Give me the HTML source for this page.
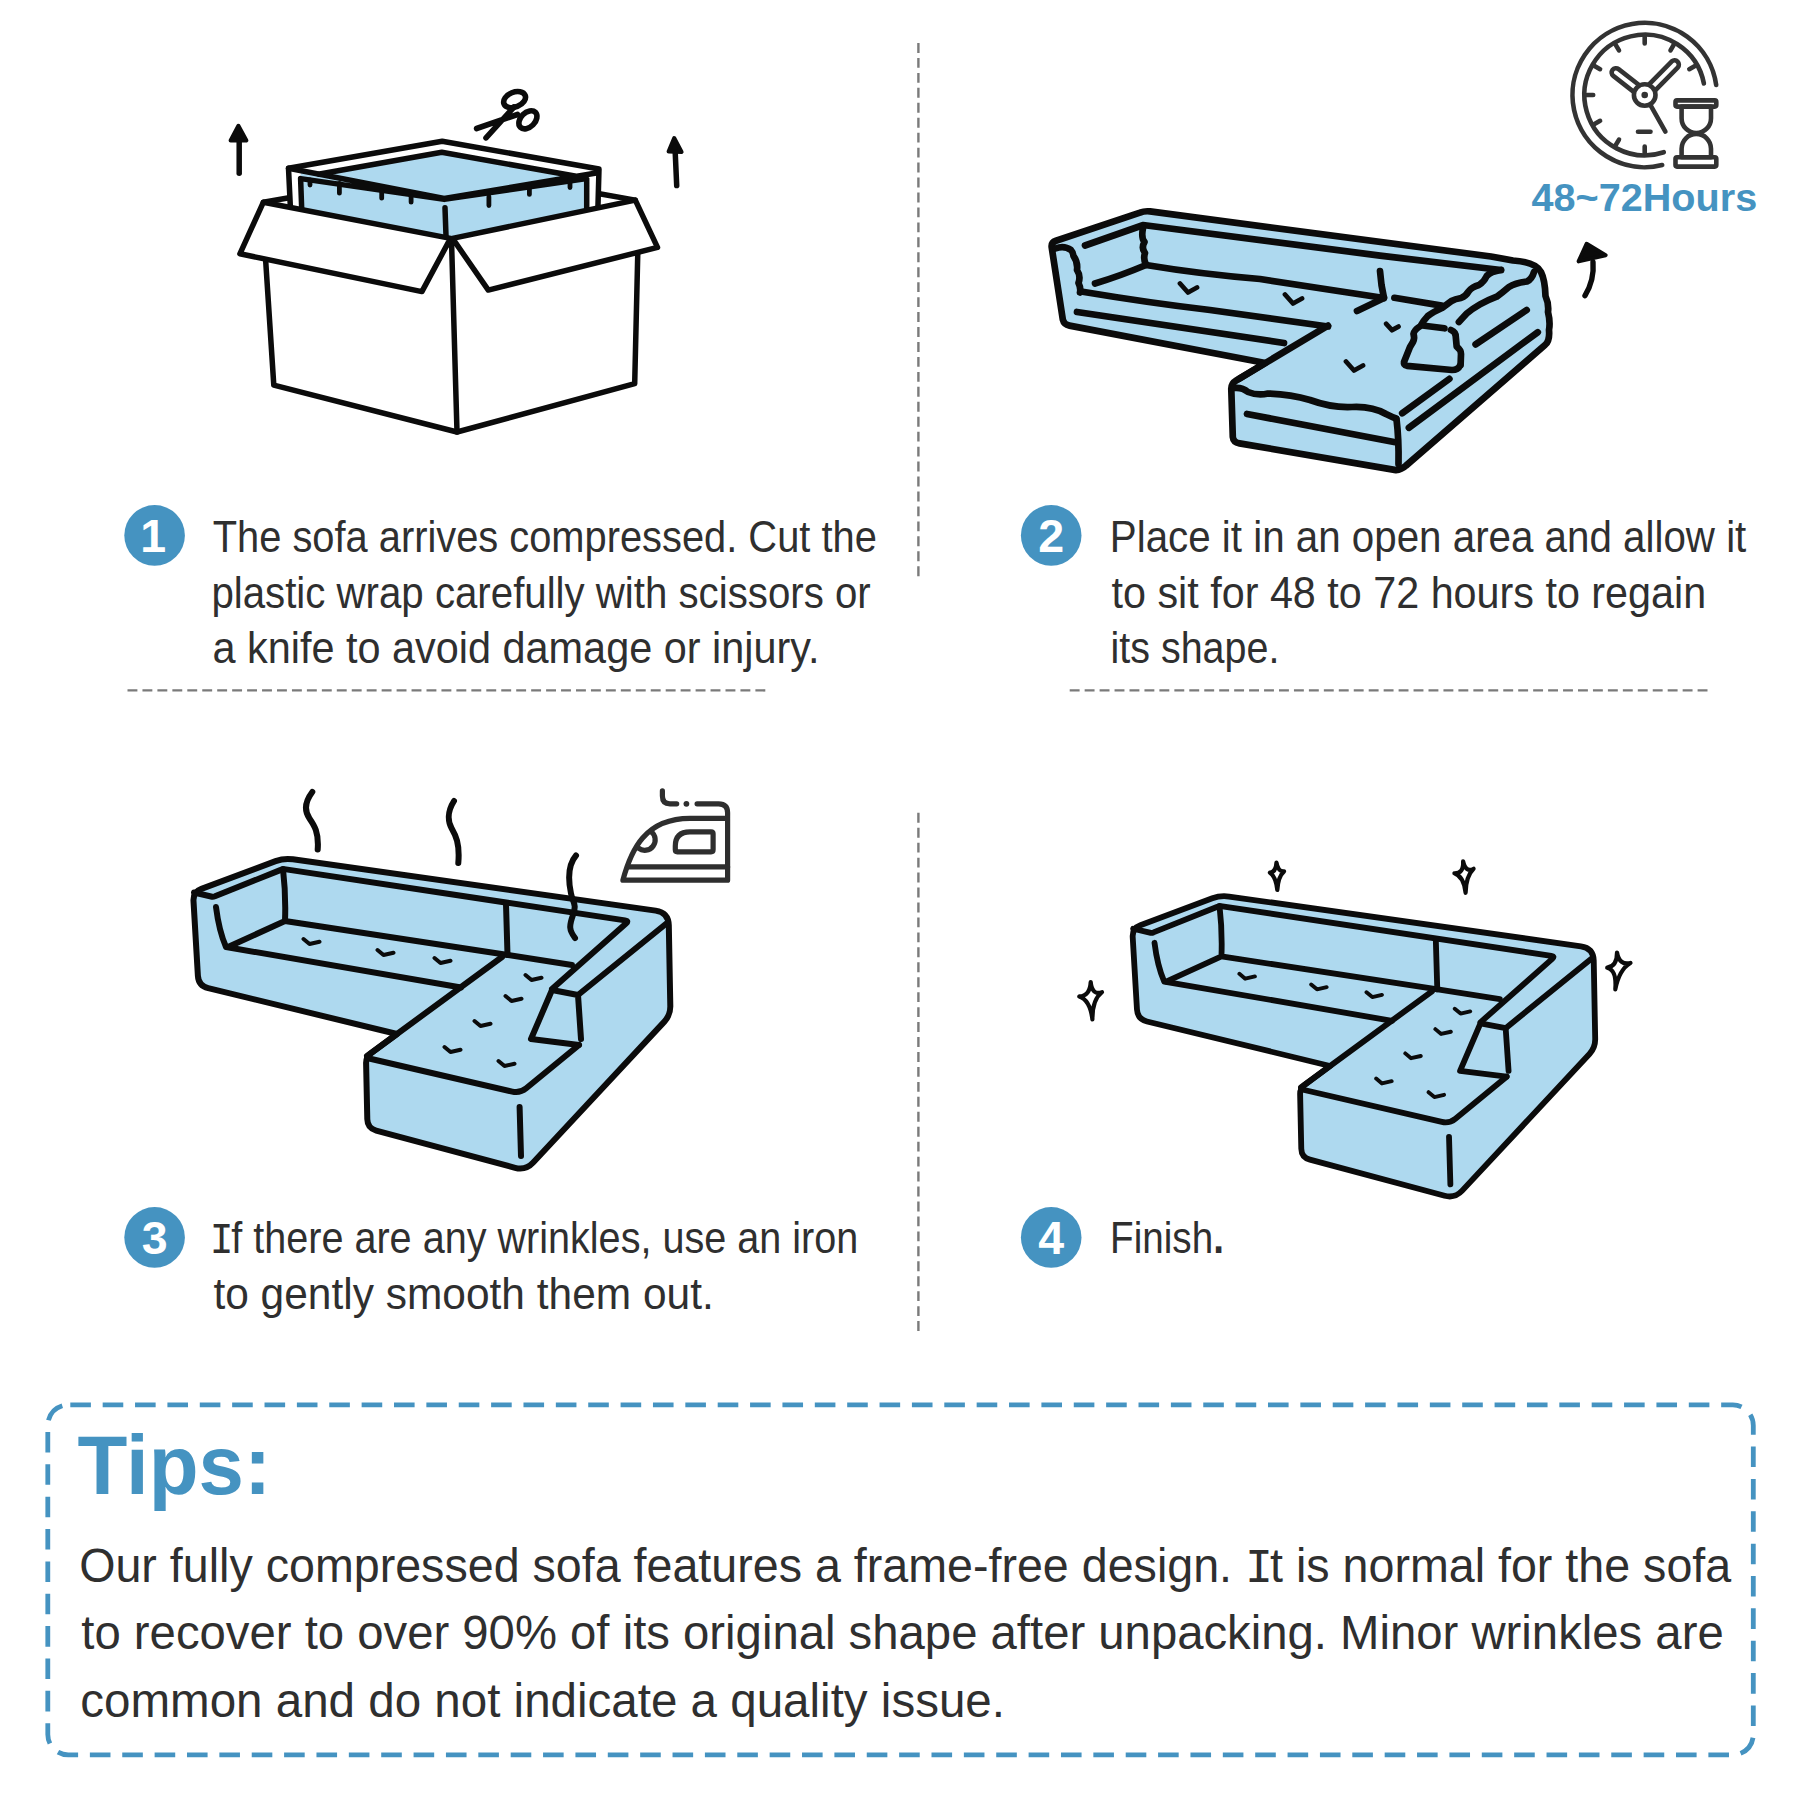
<!DOCTYPE html>
<html lang="en"><head><meta charset="utf-8"><title>Sofa unpacking guide</title>
<style>
html,body{margin:0;padding:0;background:#fff;}
body{width:1800px;height:1800px;overflow:hidden;font-family:"Liberation Sans",sans-serif;}
svg{display:block}
.t{font-family:"Liberation Sans",sans-serif;fill:#2f2f2f}
.b{font-family:"Liberation Sans",sans-serif;font-weight:bold}
.k{fill:none;stroke:#0b0b0b;stroke-width:var(--sw,6);stroke-linecap:round;stroke-linejoin:round}
.f{fill:#aed9ef;stroke:#0b0b0b;stroke-width:var(--sw,6);stroke-linecap:round;stroke-linejoin:round}
.w{fill:#fff;stroke:#0b0b0b;stroke-width:var(--sw,6);stroke-linecap:round;stroke-linejoin:round}
.m{fill:none;stroke:#0b0b0b;stroke-width:3.4;stroke-linecap:round;stroke-linejoin:round}
.i{fill:none;stroke:#333;stroke-width:4.6;stroke-linecap:round;stroke-linejoin:round}
</style></head><body>
<svg width="1800" height="1800" viewBox="0 0 1800 1800">
<rect width="1800" height="1800" fill="#fff"/>
<g id="box" style="--sw:5.5">
<path class="k" d="M263.4,202.2 L292,197.2 M635.3,200.1 L598,193.5"/>
<path class="w" d="M265.5,258 L273.8,385.2 L457,432 L634.7,383.7 L637.8,252 L452,240 Z"/>
<path class="k" d="M451.5,240 L457,432"/>
<path class="w" d="M288.5,168.2 L442.2,141.2 L599,169 L597.8,212 L446,245 L290.6,212 Z"/>
<path class="f" style="stroke:none" d="M300.6,171 L444.2,198.4 L586.7,174.8 L586.7,210 L446,240 L301.7,211 Z"/>
<path class="f" style="stroke:none" d="M318.3,174.2 L441.8,152.3 L576.2,176.3 L444.2,198.4 Z"/>
<path class="k" d="M318.3,174.2 L441.8,152.3 L576.2,176.3 M288.5,168.2 L444.2,198.4 L597.8,172.8 M301.7,209 L300.6,178.6 L444.2,199.4 L586.7,178.6 L586.7,208"/>
<path class="k" d="M445,207.8 L446,236"/>
<path class="k" style="stroke-width:4.8" d="M310,180 V185 M339.4,183.5 V193.2 M381.7,191 V198.2 M411.1,196.5 V202.2 M488.9,196.7 V205.6 M529.4,187 V194.4 M570,180 V187.6"/>
<path class="w" d="M263.4,202.2 L239.9,253.8 L421.9,291.6 L450.5,238.4 Z"/>
<path class="w" d="M635.3,200.1 L657.5,247.4 L488.3,290.1 L452.5,238.4 Z"/>
<path class="k" d="M239.2,173.3 V140"/>
<path d="M238.4,125.8 L246.4,140.4 L230.6,140.4 Z" fill="#0b0b0b" stroke="#0b0b0b" stroke-width="4" stroke-linejoin="round"/>
<path class="k" d="M676.7,185.6 L675.2,152"/>
<path d="M674.2,138 L681.6,151.9 L668.6,151.5 Z" fill="#0b0b0b" stroke="#0b0b0b" stroke-width="4" stroke-linejoin="round"/>
<g class="k" style="stroke-width:5.6">
<ellipse cx="514.6" cy="99.6" rx="11.4" ry="7.4" transform="rotate(-22 514.6 99.6)"/>
<ellipse cx="527.9" cy="119.8" rx="10.6" ry="7.2" transform="rotate(-45 527.9 119.8)"/>
<path d="M476.6,128.5 L517.5,114.5 M486,137.9 L514,107"/>
</g>
</g>
<g id="sofa2" style="--sw:6.7">
<path class="f" d="M1051.8,248 Q1050.8,242.5 1056,240.8 L1140,212.6 Q1144.5,210.8 1150,211.4 L1491,256.5 L1513,260.5 Q1536,262 1541,272 Q1545,280 1545.5,296 Q1549,304 1548,312 Q1550.5,322 1549,330 Q1550,341 1545,345 L1406,465.6 Q1401.5,469.8 1396,470.1 L1239.5,443.4 Q1233.3,442.3 1232.8,437 L1231.3,389.5 Q1231,383.6 1236,380.6 L1265.3,363 L1069.5,325.6 Q1064,324.6 1062.8,319.5 Z"/>
<path class="k" d="M1085,245.5 L1142,225.5 M1143,225 L1380,255.6 L1501,270"/>
<path class="k" d="M1055.5,248.5 Q1064,245 1071,250 Q1073,252 1073.5,256 Q1078,262 1077,270 Q1081,276 1078.5,283 Q1081,288 1080,292.5"/>
<path class="k" d="M1143,228 Q1141,238 1144.5,242 Q1141,248 1145,253 Q1143,259 1146,264.5"/>
<path class="k" d="M1095,283.5 Q1120,276 1146,265"/>
<path class="k" d="M1146,265 Q1200,274 1260,279 L1384,298"/>
<path class="k" d="M1081,291.5 Q1150,303 1210,310 L1328,326.5"/>
<path class="k" d="M1077,312 L1284,343"/>
<path class="k" d="M1328,325.6 L1239,378.8"/>
<path class="k" d="M1380,271 L1381.5,285 L1384,298 L1357,311"/>
<path class="k" d="M1394.4,297.8 L1441.7,305.6"/>
<path class="k" d="M1501,270 Q1490,272 1486.7,276 Q1484,282 1479,285 Q1472,287 1468.9,291 Q1466,296 1461,298 Q1455,299 1451.5,301 L1442,308 Q1433,312 1427.8,316 Q1423,321 1420.5,326 Q1414,330 1413.5,334 Q1415,338 1413,342 L1410,347 L1404,362 Q1403.5,365 1407,365.8 L1452,370 Q1458,370 1460,365.6"/>
<path class="k" d="M1424.4,325.8 L1444.4,328.3 M1451,330 Q1456,332 1455.8,337 L1456.7,346.7 Q1461,350 1461,354 L1460.6,365"/>
<path class="k" d="M1534,272 Q1532,279 1527,281.5 Q1515,283 1508.9,287 Q1502,293 1496.7,296.7 Q1488,300 1480,304.4 Q1472,309 1466.7,313.5 L1458.9,322"/>
<path class="k" d="M1234,388 Q1242,387 1248,392 Q1258,396 1268,393.5 Q1290,394 1310,400 Q1332,408 1352,407 Q1372,406 1386,414 Q1392,417 1396,418.5"/>
<path class="k" d="M1396.5,419 Q1399,440 1398.5,464"/>
<path class="k" d="M1247,414 L1394,442"/>
<path class="k" d="M1475.6,344.4 L1526.7,310 M1408.9,427.8 L1537.8,332.2 M1402.2,413.3 L1449.4,378.9"/>
<path class="m" style="stroke-width:4.8" d="M1180.0,283.5 L1188.0,292.5 L1197.0,287.5 M1285.0,294.5 L1293.0,303.5 L1302.0,298.5 M1346.0,361.5 L1354.0,370.5 L1363.0,365.5 M1386.2,323.8 L1392.0,330.2 L1398.5,326.6"/>
<path class="k" style="stroke-width:5.4" d="M1585,295.6 Q1594.5,280 1593,262"/>
<path d="M1586.6,243.8 L1605.6,255.2 L1578.6,261.4 Z" fill="#0b0b0b" stroke="#0b0b0b" stroke-width="4" stroke-linejoin="round"/>
</g>
<g id="sofa3"><path class="f" d="M193.5,901.0 Q193.0,892.0 201.4,888.9 L275.6,861.1 Q284.0,858.0 292.9,859.3 L655.6,910.6 Q668.5,912.4 668.8,925.4 L670.3,1006.0 Q670.5,1015.0 664.4,1021.6 L533.2,1162.5 Q525.7,1170.6 515.1,1167.8 L376.2,1130.6 Q367.5,1128.3 367.3,1119.3 L366.1,1063.0 Q366.0,1057.0 370.8,1053.4 L397.0,1034.0 L208.2,988.1 Q198.5,985.7 197.9,975.7 Z"/>
<path class="k" d="M194.0,892.5 L211.1,896.5 Q213.0,897.0 214.9,896.3 L280.2,870.1 Q283.0,869.0 286.0,869.4 L625.0,920.4 Q629.0,921.0 626.0,923.6 L552.0,989.0"/>
<path class="k" d="M216,907 Q219,931 226,947 L461,987.5"/>
<path class="k" d="M228,947 L285,921 M283,869 Q286,895 285,921 L508,955 L572,965"/>
<path class="k" d="M506,904 L507.5,955"/>
<path class="k" d="M502,957 L367,1056"/>
<path class="k" d="M667,923 L578,995"/>
<path class="k" d="M552,990 L578,995 L581,1039 M552,990 L531,1039 L579,1045"/>
<path class="k" d="M367.0,1058.0 L512.2,1091.6 Q520.0,1093.4 526.2,1088.3 L579.0,1045.0"/>
<path class="k" d="M519.6,1107 L521,1156"/>
<path class="m" style="stroke-width:4" d="M303.5,939.0 L309.5,944.0 L319.5,941.7 M377.5,950.0 L383.5,955.0 L393.5,952.7 M434.5,958.0 L440.5,963.0 L450.5,960.7 M525.5,975.0 L531.5,980.0 L541.5,977.7 M505.5,996.0 L511.5,1001.0 L521.5,998.7 M474.5,1021.0 L480.5,1026.0 L490.5,1023.7 M444.5,1047.0 L450.5,1052.0 L460.5,1049.7 M498.5,1061.0 L504.5,1066.0 L514.5,1063.7"/></g>
<path class="k" d="M312.3,792 C304,803 305,812 309.5,818.5 S319,832 317.7,849.5 M454,801 C447,812 448,822 451.7,828.5 S460,843 458.3,863 M576,855.5 C567,866 569,884 571,893.5 S577,904 573,915 S569,930 575,938"/>
<g id="sofa4" transform="translate(945,63) scale(0.97)"><path class="f" d="M193.5,901.0 Q193.0,892.0 201.4,888.9 L275.6,861.1 Q284.0,858.0 292.9,859.3 L655.6,910.6 Q668.5,912.4 668.8,925.4 L670.3,1006.0 Q670.5,1015.0 664.4,1021.6 L533.2,1162.5 Q525.7,1170.6 515.1,1167.8 L376.2,1130.6 Q367.5,1128.3 367.3,1119.3 L366.1,1063.0 Q366.0,1057.0 370.8,1053.4 L397.0,1034.0 L208.2,988.1 Q198.5,985.7 197.9,975.7 Z"/>
<path class="k" d="M194.0,892.5 L211.1,896.5 Q213.0,897.0 214.9,896.3 L280.2,870.1 Q283.0,869.0 286.0,869.4 L625.0,920.4 Q629.0,921.0 626.0,923.6 L552.0,989.0"/>
<path class="k" d="M216,907 Q219,931 226,947 L461,987.5"/>
<path class="k" d="M228,947 L285,921 M283,869 Q286,895 285,921 L508,955 L572,965"/>
<path class="k" d="M506,904 L507.5,955"/>
<path class="k" d="M502,957 L367,1056"/>
<path class="k" d="M667,923 L578,995"/>
<path class="k" d="M552,990 L578,995 L581,1039 M552,990 L531,1039 L579,1045"/>
<path class="k" d="M367.0,1058.0 L512.2,1091.6 Q520.0,1093.4 526.2,1088.3 L579.0,1045.0"/>
<path class="k" d="M519.6,1107 L521,1156"/>
<path class="m" style="stroke-width:4" d="M303.5,939.0 L309.5,944.0 L319.5,941.7 M377.5,950.0 L383.5,955.0 L393.5,952.7 M434.5,958.0 L440.5,963.0 L450.5,960.7 M525.5,975.0 L531.5,980.0 L541.5,977.7 M505.5,996.0 L511.5,1001.0 L521.5,998.7 M474.5,1021.0 L480.5,1026.0 L490.5,1023.7 M444.5,1047.0 L450.5,1052.0 L460.5,1049.7 M498.5,1061.0 L504.5,1066.0 L514.5,1063.7"/></g>
<path d="M1090.7,982.0 Q1092.2,995.8 1102.0,992.2 Q1092.3,999.6 1092.4,1019.4 Q1090.1,1000.0 1079.3,996.4 Q1089.9,996.2 1090.7,982.0 Z" fill="#fff" stroke="#0b0b0b" stroke-width="4.2" stroke-linejoin="round" stroke-linecap="round"/>
<path d="M1276.5,862.5 Q1278.1,871.9 1284.1,871.3 Q1278.2,876.3 1277.3,890.0 Q1275.9,876.6 1269.9,872.7 Q1275.8,872.2 1276.5,862.5 Z" fill="#fff" stroke="#0b0b0b" stroke-width="4.2" stroke-linejoin="round" stroke-linecap="round"/>
<path d="M1463.1,861.3 Q1465.7,873.0 1473.6,868.8 Q1465.9,876.2 1465.6,892.8 Q1464.0,876.6 1454.4,873.3 Q1463.8,873.5 1463.1,861.3 Z" fill="#fff" stroke="#0b0b0b" stroke-width="4.2" stroke-linejoin="round" stroke-linecap="round"/>
<path d="M1617.0,952.5 Q1619.4,965.7 1630.5,963.0 Q1619.2,969.4 1615.3,989.4 Q1616.9,969.9 1607.2,967.7 Q1617.1,966.2 1617.0,952.5 Z" fill="#fff" stroke="#0b0b0b" stroke-width="4.2" stroke-linejoin="round" stroke-linecap="round"/>
<g id="clock" class="i">
<path d="M1662.2,165.1 A72.2,72.2 0 1 1 1716.2,85.0"/>
<path d="M1663.8,152.2 A60.3,60.3 0 1 1 1703.9,83.5"/>
<path d="M1644.7,37.0 L1644.7,43.5 M1673.7,44.8 L1670.5,50.4 M1694.9,66.0 L1689.3,69.2 M1594.5,66.0 L1600.1,69.2 M1615.7,44.8 L1619.0,50.4 M1586.7,95.0 L1593.2,95.0 M1594.5,124.0 L1600.1,120.8 M1615.7,145.2 L1619.0,139.6 M1644.7,153.0 L1644.7,146.5 "/>
<path d="M1638.7,84.8 L1618.6,69.1 A4.3,4.3 0 0 0 1613.3,75.9 L1633.4,91.6"/>
<path d="M1655.5,90.2 L1677.9,67.3 A4.3,4.3 0 0 0 1671.8,61.3 L1649.3,84.1"/>
<path d="M1650.6,105.4 L1665.4,131.6"/>
<circle cx="1644.7" cy="95.0" r="10.8" fill="#fff"/>
<circle cx="1644.7" cy="95.0" r="3.3" fill="#333" stroke="none"/>
<path d="M1638,131.7 H1650.5"/>
<rect x="1675.5" y="100.4" width="40.8" height="6.2" rx="1.5" fill="#fff"/>
<rect x="1675.5" y="157.2" width="40.8" height="9.4" rx="1.5" fill="#fff"/>
<path fill="#fff" d="M1681.6,106.6 V118.2 A14.7,14.9 0 0 0 1711,118.2 V106.6 Z"/>
<path fill="#fff" d="M1681.6,157.2 V148.8 A14.7,14.9 0 0 1 1711,148.8 V157.2 Z"/>
</g>
<g id="iron" class="i" style="stroke:#2e2e2e;stroke-width:5.2">
<path d="M697.1,803.8 H718.6 Q727.6,803.8 727.6,812.8 V880.2 H622.9 C631,850 645,818.4 690,818.4 H727.6"/>
<path d="M629.1,866.9 H727.6"/>
<path d="M662.4,790.9 V796 Q662.4,803.8 670,803.8 H676.7"/>
<circle cx="686.4" cy="803.8" r="2.9" fill="#2e2e2e" stroke="none"/>
<path d="M690,831.8 H711.1 Q713.1,831.8 713.1,833.8 V849.8 Q713.1,851.8 711.1,851.8 H677.3 Q675.3,851.8 675.3,849.8 V846 Q675.3,831.8 690,831.8 Z"/>
<path d="M651,831.5 A7.6,7.6 0 0 1 638.5,848.2"/>
</g>
<g stroke="#7a7a7a" stroke-width="2.4" fill="none" stroke-dasharray="9.9 5.05">
<path d="M918.4,43 V578"/>
<path d="M918.4,812.8 V1333"/>
<path d="M127.5,690.4 H768"/>
<path d="M1069.7,690.4 H1710"/>
</g>
<circle cx="154.6" cy="535.4" r="30.3" fill="#4593c1"/>
<text class="b" x="153.29999999999998" y="552.1" font-size="46.5" fill="#fff" text-anchor="middle">1</text>
<circle cx="1051.2" cy="535.4" r="30.3" fill="#4593c1"/>
<text class="b" x="1051.2" y="552.1" font-size="46.5" fill="#fff" text-anchor="middle">2</text>
<circle cx="154.6" cy="1237.4" r="30.3" fill="#4593c1"/>
<text class="b" x="154.6" y="1254.1000000000001" font-size="46.5" fill="#fff" text-anchor="middle">3</text>
<circle cx="1051.2" cy="1237.4" r="30.3" fill="#4593c1"/>
<text class="b" x="1051.2" y="1254.1000000000001" font-size="46.5" fill="#fff" text-anchor="middle">4</text>
<rect x="47.8" y="1404.9" width="1705.5" height="350" rx="20.5" ry="20.5" fill="none" stroke="#4593c1" stroke-width="4.8" stroke-dasharray="20.6 11.77" stroke-dashoffset="-2"/>
<text class="t" x="212.70" y="551.8" font-size="44" textLength="664.10" lengthAdjust="spacingAndGlyphs">The sofa arrives compressed. Cut the</text>
<text class="t" x="211.40" y="607.6" font-size="44" textLength="659.30" lengthAdjust="spacingAndGlyphs">plastic wrap carefully with scissors or</text>
<text class="t" x="212.40" y="663.4" font-size="44" textLength="607.10" lengthAdjust="spacingAndGlyphs">a knife to avoid damage or injury.</text>
<text class="t" x="1109.80" y="551.8" font-size="44" textLength="636.50" lengthAdjust="spacingAndGlyphs">Place it in an open area and allow it</text>
<text class="t" x="1111.50" y="607.6" font-size="44" textLength="594.70" lengthAdjust="spacingAndGlyphs">to sit for 48 to 72 hours to regain</text>
<text class="t" x="1110.50" y="663.4" font-size="44" textLength="168.90" lengthAdjust="spacingAndGlyphs">its shape.</text>
<text class="t" x="209.70" y="1253.3" font-size="44" textLength="648.60" lengthAdjust="spacingAndGlyphs"><tspan font-family='Liberation Mono, monospace'>I</tspan><tspan dx='-2.5'>f</tspan> there are any wrinkles, use an iron</text>
<text class="t" x="213.40" y="1309.3" font-size="44" textLength="500.40" lengthAdjust="spacingAndGlyphs">to gently smooth them out.</text>
<text class="t" x="1110.10" y="1253.3" font-size="44" textLength="113.80" lengthAdjust="spacingAndGlyphs">Finish<tspan font-weight='bold'>.</tspan></text>
<text class="b" x="1531.50" y="211.3" font-size="38" fill="#4593c1" textLength="225.70" lengthAdjust="spacingAndGlyphs">48~72Hours</text>
<text class="b" x="77.60" y="1494.4" font-size="84" fill="#4593c1" textLength="193.50" lengthAdjust="spacingAndGlyphs">Tips:</text>
<text class="t" x="79.20" y="1581.7" font-size="48" textLength="1652.00" lengthAdjust="spacingAndGlyphs">Our fully compressed sofa features a frame-free design. <tspan font-family='Liberation Mono, monospace'>I</tspan><tspan dx='-3'>t</tspan> is normal for the sofa</text>
<text class="t" x="81.30" y="1649.3" font-size="48" textLength="1642.40" lengthAdjust="spacingAndGlyphs">to recover to over 90% of its original shape after unpacking. Minor wrinkles are</text>
<text class="t" x="80.30" y="1716.7" font-size="48" textLength="924.70" lengthAdjust="spacingAndGlyphs">common and do not indicate a quality issue.</text>
</svg>
</body></html>
